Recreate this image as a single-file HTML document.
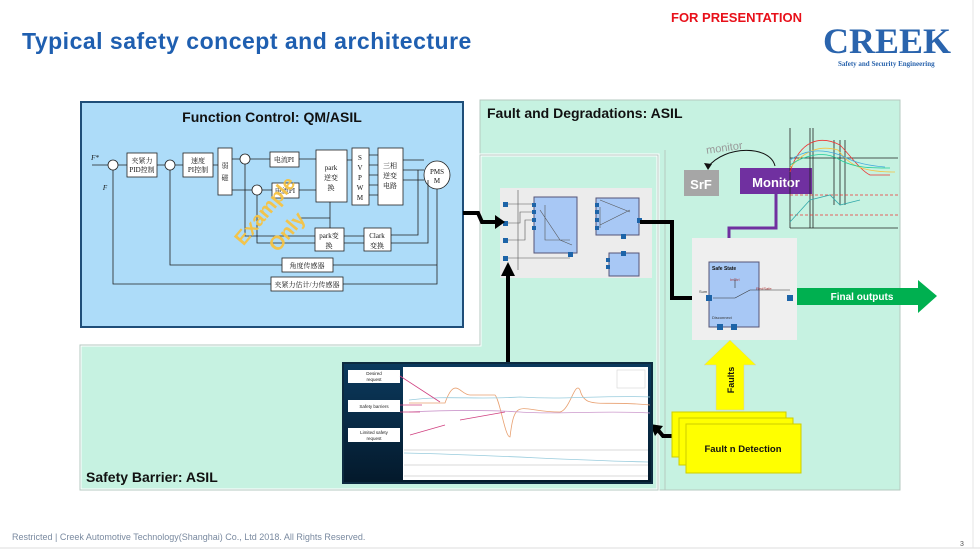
<!DOCTYPE html>
<html><head><meta charset="utf-8"><style>
body{margin:0;background:#fff;}
svg{display:block;font-family:"Liberation Sans","Noto Sans CJK SC",sans-serif;}
</style></head><body>
<svg width="980" height="553" viewBox="0 0 980 553" xmlns="http://www.w3.org/2000/svg">
<rect x="0" y="0" width="980" height="553" fill="#fff"/>
<line x1="0" y1="548" x2="980" y2="548" stroke="#ddd"/>
<line x1="973" y1="0" x2="973" y2="548" stroke="#e4e4e4"/>
<text x="22" y="49" font-size="23" font-weight="bold" fill="#1f5fb0" letter-spacing="0.5">Typical safety concept and architecture</text>
<text x="671" y="22" font-size="13" font-weight="bold" fill="#e8101a">FOR PRESENTATION</text>
<text x="823" y="53" font-size="36" font-weight="bold" fill="#2a64ad" font-family="Liberation Serif,serif">CREEK</text>
<text x="838" y="66" font-size="7" font-weight="bold" fill="#2a64ad" font-family="Liberation Serif,serif">Safety and Security Engineering</text>

<rect x="480" y="100" width="420" height="390" fill="#c6f2e1" stroke="#b5c9c0"/>
<text x="487" y="118" font-size="14" font-weight="bold" fill="#111">Fault and Degradations: ASIL</text>
<path d="M80,345 H480 V155 H658 V490 H80 Z" fill="#c6f2e1" stroke="#fff" stroke-width="3"/>
<path d="M80,345 H480 V155 H658 V490 H80 Z" fill="none" stroke="#b5c9c0" stroke-width="1"/>
<line x1="665" y1="150" x2="665" y2="490" stroke="#b5c9c0"/>
<text x="86" y="482" font-size="14" font-weight="bold" fill="#111">Safety Barrier: ASIL</text>

<rect x="81" y="102" width="382" height="225" fill="#addcf9" stroke="#1f4e79" stroke-width="2"/>
<text x="272" y="122" font-size="14" font-weight="bold" fill="#111" text-anchor="middle">Function Control: QM/ASIL</text>
<g stroke="#222" fill="#fff" stroke-width="0.8" font-size="7">
<circle cx="113" cy="165" r="5"/><circle cx="170" cy="165" r="5"/><circle cx="245" cy="159" r="5"/><circle cx="257" cy="190" r="5"/>
<rect x="127" y="153" width="30" height="24"/><rect x="183" y="153" width="30" height="24"/>
<rect x="218" y="148" width="14" height="47"/><rect x="270" y="152" width="29" height="15"/><rect x="272" y="183" width="27" height="15"/>
<rect x="316" y="150" width="31" height="52"/><rect x="352" y="148" width="17" height="57"/><rect x="378" y="148" width="25" height="57"/>
<rect x="315" y="228" width="29" height="23"/><rect x="364" y="228" width="27" height="23"/>
<rect x="282" y="258" width="51" height="14"/><rect x="271" y="277" width="72" height="14"/>
<ellipse cx="437" cy="175" rx="13" ry="14"/>
</g>
<g fill="none" stroke="#222" stroke-width="0.8">
<path d="M92,165H108M118,165H127M157,165H165M175,165H183M213,165H218M232,159H240M250,159H270M299,159H316M232,190H252M262,190H272M299,190H316M347,160H352M369,155H378M369,165H378M369,175H378M369,185H378M369,195H378M403,160H424M403,170H424M403,180H424"/>
<path d="M437,189V284H343M437,265H333M282,265H170V170M271,284H113V170M418,170V235H391M428,180V243H391M364,236H344M364,243H344M315,236H245V164M315,243H257V195M330,228V202M300,218H330"/>
</g>
<g font-size="7" fill="#111" text-anchor="middle" font-family="Liberation Serif,Noto Serif CJK SC,serif">
<text x="142" y="163">夹紧力</text><text x="142" y="172">PID控制</text><text x="198" y="163">速度</text><text x="198" y="172">PI控制</text>
<text x="225" y="168">弱</text><text x="225" y="180">磁</text><text x="284" y="162">电流PI</text><text x="285" y="193">电流PI</text>
<text x="331" y="170">park</text><text x="331" y="180">逆变</text><text x="331" y="190">换</text>
<text x="360" y="160">S</text><text x="360" y="170">V</text><text x="360" y="180">P</text><text x="360" y="190">W</text><text x="360" y="200">M</text>
<text x="390" y="168">三相</text><text x="390" y="178">逆变</text><text x="390" y="188">电路</text>
<text x="437" y="174">PMS</text><text x="437" y="183">M</text>
<text x="329" y="238">park变</text><text x="329" y="248">换</text><text x="377" y="238">Clark</text><text x="377" y="248">变换</text>
<text x="307" y="268">角度传感器</text><text x="307" y="287">夹紧力估计/力传感器</text>
<text x="95" y="160" font-style="italic">F*</text><text x="105" y="190" font-style="italic">F</text>
</g>
<text x="270" y="215" font-size="20" font-weight="bold" fill="#f5c242" fill-opacity="0.95" text-anchor="middle" transform="rotate(-50 270 215)">Example</text>
<text x="292" y="236" font-size="20" font-weight="bold" fill="#f5c242" fill-opacity="0.95" text-anchor="middle" transform="rotate(-50 292 236)">Only</text>

<rect x="500" y="188" width="152" height="90" fill="#ececec"/>
<rect x="534" y="197" width="43" height="56" fill="#a8c8f5" stroke="#557"/>
<rect x="596" y="198" width="43" height="37" fill="#a8c8f5" stroke="#557"/>
<rect x="609" y="253" width="30" height="23" fill="#a8c8f5" stroke="#557"/>
<g fill="#1d64a8"><rect x="503" y="202" width="5" height="5"/><rect x="503" y="221" width="5" height="5"/><rect x="503" y="238" width="5" height="5"/><rect x="503" y="256" width="5" height="5"/>
<rect x="532" y="203" width="4" height="4"/><rect x="532" y="210" width="4" height="4"/><rect x="532" y="218" width="4" height="4"/><rect x="532" y="226" width="4" height="4"/>
<rect x="595" y="203" width="4" height="4"/><rect x="595" y="210" width="4" height="4"/><rect x="595" y="218" width="4" height="4"/><rect x="595" y="226" width="4" height="4"/>
<rect x="568" y="252" width="5" height="5"/><rect x="621" y="234" width="5" height="5"/><rect x="621" y="251" width="5" height="5"/><rect x="606" y="258" width="4" height="4"/><rect x="606" y="265" width="4" height="4"/><rect x="637" y="218" width="5" height="5"/></g>
<g stroke="#555" stroke-width="0.6" fill="none"><path d="M508,204H532M508,223H520V212H532M508,240H525V220H532M508,258H570M545,205V240H570M518,190V270M600,200L630,212M600,225L630,210M600,207V228M540,210L560,240M560,240L572,245"/></g>

<g fill="none" stroke="#000" stroke-width="4">
<path d="M463,213H478L482,222H496"/>
<path d="M508,363V275"/>
<path d="M640,222H672V298H700"/>
<path d="M672,436H663L658,430"/>
</g>
<polygon points="495,215 505,222 495,229" fill="#000"/>
<polygon points="501,276 508,262 515,276" fill="#000"/>
<polygon points="699,291 710,298 699,305" fill="#000"/>
<polygon points="650,424 663,426 655,436" fill="#000"/>

<rect x="684" y="170" width="35" height="26" fill="#a6a6a6"/>
<text x="701" y="189" font-size="13" font-weight="bold" fill="#fff" text-anchor="middle">SrF</text>
<path d="M775,166 C770,145 725,145 708,167" fill="none" stroke="#111" stroke-width="1"/>
<polygon points="704,163 708,170 712,164" fill="#111"/>
<text x="706" y="151" font-size="11" fill="#999" transform="rotate(-8 727 148)">monitor</text>
<rect x="740" y="168" width="72" height="26" fill="#7030a0"/>
<text x="776" y="187" font-size="13" font-weight="bold" fill="#fff" text-anchor="middle">Monitor</text>
<path d="M776,194V228H729V250" fill="none" stroke="#7030a0" stroke-width="3"/>
<polygon points="723,248 729,258 735,248" fill="#7030a0"/>

<g fill="none" stroke-width="0.8">
<path d="M790,128V228M790,158H898M790,228H898M810,128V228M813,128V228M834,140V205M840,140V205M845,140V205" stroke="#222"/>
<path d="M790,172C800,140 820,135 840,145C850,155 860,170 870,175H890" stroke="#e33"/>
<path d="M790,168C805,150 820,145 838,150C850,165 860,172 895,172" stroke="#f5c242"/>
<path d="M790,165C805,155 825,150 840,160C855,168 870,168 890,168" stroke="#2c9"/>
<path d="M790,160C805,150 820,148 840,155C850,160 860,165 885,167" stroke="#4ad"/>
<path d="M790,195H898M790,215H898" stroke="#e33" stroke-dasharray="3,2"/>
<path d="M790,222L810,200L830,195L840,205L860,200" stroke="#3aa"/>
</g>

<rect x="692" y="238" width="105" height="102" fill="#efefef"/>
<rect x="709" y="262" width="50" height="65" fill="#a8c8f5" stroke="#557"/>
<text x="712" y="270" font-size="5" font-weight="bold" fill="#111">Safe State</text>
<text x="730" y="281" font-size="4" fill="#a33">InCtrl</text><text x="756" y="290" font-size="4" fill="#a33">RedSafe</text>
<text x="699" y="293" font-size="4" fill="#333">Sum</text>
<text x="712" y="319" font-size="4" fill="#333">Disconnect</text>
<path d="M713,298H735L750,290H790M735,279V288" stroke="#333" stroke-width="0.6" fill="none"/>
<g fill="#1d64a8"><rect x="706" y="295" width="6" height="6"/><rect x="787" y="295" width="6" height="6"/><rect x="717" y="324" width="6" height="6"/><rect x="731" y="324" width="6" height="6"/></g>

<polygon points="797,288 918,288 918,280 937,296 918,313 918,305 797,305" fill="#00b050"/>
<text x="862" y="300" font-size="10" font-weight="bold" fill="#fff" text-anchor="middle">Final outputs</text>

<polygon points="716,410 716,365 704,365 730,340 756,365 744,365 744,410" fill="#ffff00" stroke="#ccc" stroke-width="0.5"/>
<text x="734" y="380" font-size="9" font-weight="bold" fill="#111" text-anchor="middle" transform="rotate(-90 734 380)">Faults</text>
<rect x="672" y="412" width="114" height="45" fill="#ffff00" stroke="#cdcd00"/>
<rect x="679" y="418" width="114" height="47" fill="#ffff00" stroke="#cdcd00"/>
<rect x="686" y="424" width="115" height="49" fill="#ffff00" stroke="#cdcd00"/>
<text x="743" y="452" font-size="9.5" font-weight="bold" fill="#111" text-anchor="middle">Fault n Detection</text>

<defs><linearGradient id="g" x1="0" y1="0" x2="0" y2="1"><stop offset="0" stop-color="#0b3a5e"/><stop offset="1" stop-color="#04192b"/></linearGradient></defs>
<rect x="343" y="363" width="309" height="120" fill="url(#g)" stroke="#0d2b40" stroke-width="2"/>
<rect x="403" y="367" width="245" height="113" fill="#fff"/>
<g fill="#fff"><rect x="348" y="370" width="52" height="13"/><rect x="348" y="400" width="52" height="12"/><rect x="348" y="428" width="52" height="14"/></g>
<g font-size="4.5" fill="#222" text-anchor="middle"><text x="374" y="375">Desired</text><text x="374" y="381">request</text><text x="374" y="408">Safety barriers</text><text x="374" y="434">Limited safety</text><text x="374" y="440">request</text></g>
<g fill="none" stroke-width="0.8">
<path d="M409,403H445C455,375 460,395 470,395H495C500,400 505,437 510,437C515,395 520,412 560,412C570,410 575,380 580,390C585,410 600,400 650,405" stroke="#e8a070"/>
<path d="M409,400C450,395 470,400 520,397C570,400 600,395 650,397" stroke="#9cd"/>
<path d="M409,412C450,410 490,410 520,412C560,415 600,410 650,413" stroke="#c9c"/>
<path d="M400,376L440,402M400,405H422M400,412H420M410,435L445,425M460,420L505,412" stroke="#d04080"/>
<path d="M404,450H648M404,465H648M404,476H648" stroke="#ccc"/>
<path d="M404,453C500,455 560,460 648,462" stroke="#9cd"/>
</g>
<rect x="617" y="370" width="28" height="18" fill="#fff" stroke="#ccc" stroke-width="0.5"/>

<text x="12" y="540" font-size="9" fill="#7a8aa0">Restricted | Creek Automotive Technology(Shanghai) Co., Ltd 2018. All Rights Reserved.</text>
<text x="960" y="546" font-size="7" fill="#555">3</text>
</svg>
</body></html>
